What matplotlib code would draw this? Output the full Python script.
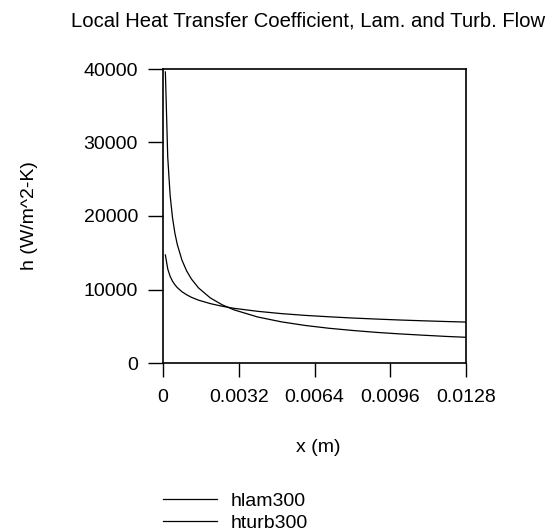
import matplotlib
matplotlib.use("Agg")
import matplotlib.pyplot as plt

# x positions along the plate (m)
x = [0.0001, 0.0002, 0.0003, 0.0004, 0.0005, 0.0006, 0.0008, 0.001, 0.0012,
     0.0015, 0.002, 0.0025, 0.003, 0.004, 0.005, 0.006, 0.007, 0.008, 0.009,
     0.010, 0.011, 0.012, 0.0128]

# local heat transfer coefficient, laminar (W/m^2-K)
hlam300 = [39600, 28000, 22860, 19800, 17710, 16170, 14000, 12520, 11430,
           10220, 8850, 7920, 7230, 6260, 5600, 5110, 4730, 4430, 4170,
           3960, 3780, 3610, 3500]

# local heat transfer coefficient, turbulent (W/m^2-K)
hturb300 = [14700, 12800, 11800, 11140, 10660, 10270, 9700, 9280, 8940,
            8550, 8080, 7720, 7440, 7030, 6720, 6480, 6290, 6120, 5980,
            5850, 5740, 5640, 5570]

xticks = [0, 0.0032, 0.0064, 0.0096, 0.0128]
xtick_labels = ["0", "0.0032", "0.0064", "0.0096", "0.0128"]
yticks = [0, 10000, 20000, 30000, 40000]

plt.rcParams['font.family'] = ['Liberation Sans', 'DejaVu Sans']

fig = plt.figure(figsize=(5.57, 5.31), dpi=100)
ax = fig.add_axes([163/557, 1 - 363/531, 303/557, 294/531])

l1, = ax.plot(x, hlam300, color='black', lw=0.9)
l2, = ax.plot(x, hturb300, color='black', lw=0.9)

ax.set_xlim(0, 0.0128)
ax.set_ylim(0, 40000)
ax.set_xticks(xticks)
ax.set_xticklabels(xtick_labels)
ax.set_yticks(yticks)
ax.tick_params(axis='both', labelsize=14, width=1, color='black')
ax.tick_params(axis='y', length=11, pad=7)
ax.tick_params(axis='x', length=10, pad=9)
for s in ax.spines.values():
    s.set_linewidth(1.2)

fig.text(29/557, 1 - 216/531, "h (W/m^2-K)", fontsize=14, rotation=90,
         ha='center', va='center')
fig.text(318/557, 1 - 448/531, "x (m)", fontsize=14, ha='center', va='center')

fig.text(71/557, 1 - 21/531, "Local Heat Transfer Coefficient, Lam. and Turb. Flow",
         fontsize=14.6, ha='left', va='center')

# legend drawn below the axes
fig.legend([l1, l2], ["hlam300", "hturb300"], loc='upper left',
           bbox_to_anchor=(163/557, 1 - 492/531), frameon=False, fontsize=14,
           handlelength=2.8, handletextpad=0.7, labelspacing=0.22, borderpad=0,
           borderaxespad=0)

fig.savefig("out.png", dpi=100)
